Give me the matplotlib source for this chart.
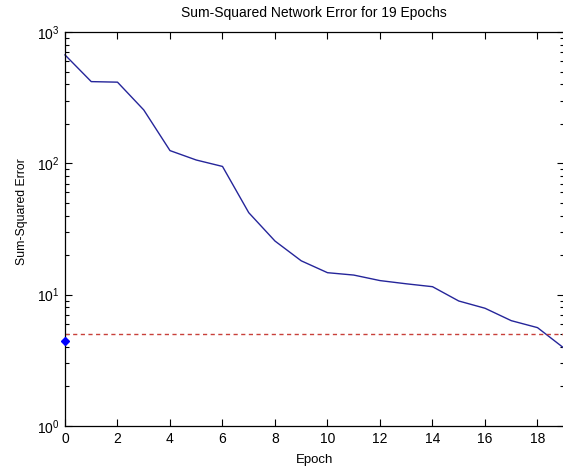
import matplotlib
matplotlib.use('Agg')
import matplotlib.pyplot as plt
from matplotlib.ticker import LogLocator, NullFormatter, FixedLocator

plt.rcParams['font.family'] = ['Liberation Sans', 'DejaVu Sans']

# training error per epoch
epochs = list(range(20))
sse = [669, 419, 415, 255, 125, 106, 94.7, 42.1, 25.6, 18.1,
       14.7, 14.1, 12.8, 12.1, 11.5, 8.95, 7.88, 6.34, 5.61, 3.93]
goal = 5.05
perf_x = [0]
perf_y = [4.45]
x_ticks = [0, 2, 4, 6, 8, 10, 12, 14, 16, 18]

fig = plt.figure(figsize=(5.63, 4.67), dpi=100)
ax = fig.add_axes([65 / 563, 41 / 467, 498.75 / 563, 394 / 467])

ax.semilogy(epochs, sse, color='#25259a', lw=1.0, clip_on=False)
ax.axhline(goal, color='#c8403a', lw=1.0, ls=(0, (3, 2.5)))
ax.plot(perf_x, perf_y, marker='D', color='#0000ff', markersize=4, ls='none', clip_on=False, zorder=5)

ax.set_xlim(0, 19)
ax.set_ylim(1, 1000)
ax.xaxis.set_major_locator(FixedLocator(x_ticks))
ax.yaxis.set_major_locator(LogLocator(base=10, numticks=10))
ax.yaxis.set_minor_locator(LogLocator(base=10, subs=range(2, 10), numticks=20))
ax.yaxis.set_minor_formatter(NullFormatter())

ax.tick_params(which='both', direction='in', top=True, right=True, labelsize=10, pad=4)
ax.tick_params(which='major', length=5, width=0.8)
ax.tick_params(which='minor', length=3, width=0.8)
for sp in ax.spines.values():
    sp.set_linewidth(0.9)

ax.set_title('Sum-Squared Network Error for 19 Epochs', fontsize=10, pad=11)
ax.set_xlabel('Epoch', fontsize=9.5, labelpad=6)
ax.set_ylabel('Sum-Squared Error', fontsize=8.8)
ax.yaxis.set_label_coords(-0.074, 0.545)

fig.savefig('out.png', dpi=100)
